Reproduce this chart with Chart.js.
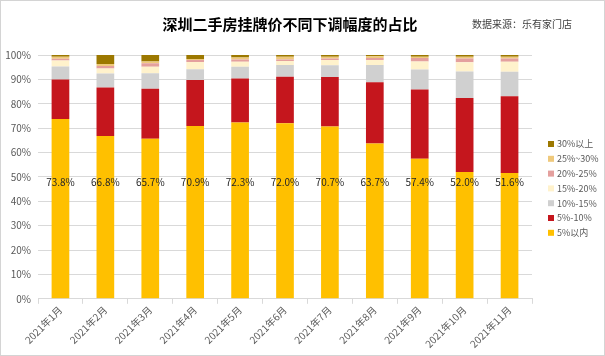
<!DOCTYPE html>
<html>
<head>
<meta charset="utf-8">
<script src="https://cdn.jsdelivr.net/npm/chart.js@4"></script>
<style>
  html, body { margin: 0; padding: 0; background: #fff; }
  #wrap { position: relative; width: 605px; height: 356px; }
  #wrap:after { content: ''; position: absolute; left: 0; top: 0; right: 0; bottom: 0; border: 1px solid #d4d4d4; pointer-events: none; }
  canvas { display: block; }
</style>
</head>
<body>
<div id="wrap"><canvas id="c" width="605" height="356"></canvas></div>
<script>
// ---- data ----
const titleText = '深圳二手房挂牌价不同下调幅度的占比';
const sourceText = '数据来源：乐有家门店';
const categories = ['2021年1月','2021年2月','2021年3月','2021年4月','2021年5月','2021年6月','2021年7月','2021年8月','2021年9月','2021年10月','2021年11月'];
const seriesNames = ['5%以内','5%-10%','10%-15%','15%-20%','20%-25%','25%~30%','30%以上'];
const share5 = [73.8,66.8,65.7,70.9,72.3,72.0,70.7,63.7,57.4,52.0,51.6];
const share5to10 = [16.2,19.9,20.5,18.8,18.1,19.1,20.3,25.1,28.5,30.4,31.5];
const share10to15 = [5.3,5.7,6.3,4.5,4.8,4.8,4.8,7.1,8.2,10.8,10.0];
const share15to20 = [2.4,2.1,2.7,2.9,2.0,1.6,2.1,2.1,3.2,3.8,4.1];
const share20to25 = [0.8,1.0,1.4,0.9,1.0,0.7,0.7,0.8,1.5,1.6,1.4];
const share25to30 = [0.8,0.8,0.7,0.4,0.8,1.1,0.7,0.7,0.5,0.7,0.7];
const share30plus = [0.7,3.7,2.7,1.6,1.0,0.7,0.7,0.5,0.7,0.7,0.7];
const yTicks = [0,10,20,30,40,50,60,70,80,90,100];

// ---- styles ----
const colors = ['#FFC000','#C5161D','#D0D0D0','#FFF2CC','#E4A09E','#EFC97C','#9C7800'];
const FONT = '"Noto Sans CJK SC", "Noto Sans", sans-serif';
const allSeries = [share5, share5to10, share10to15, share15to20, share20to25, share25to30, share30plus];

const datasets = allSeries.map((d, i) => ({
  label: seriesNames[i],
  data: d,
  backgroundColor: colors[i],
  borderWidth: 0,
  categoryPercentage: 1.0,
  barPercentage: 0.394
}));

const decorPlugin = {
  id: 'decor',
  afterDraw(chart) {
    const ctx = chart.ctx;
    const area = chart.chartArea;
    ctx.save();
    // title
    ctx.fillStyle = '#000';
    ctx.font = 'bold 15px ' + FONT;
    ctx.textAlign = 'center';
    ctx.textBaseline = 'middle';
    ctx.fillText(titleText, 290, 24);
    // source
    ctx.fillStyle = '#404040';
    ctx.font = '10px ' + FONT;
    ctx.textAlign = 'left';
    ctx.fillText(sourceText, 472, 24);
    // value labels on first series
    const meta = chart.getDatasetMeta(0);
    const ys = chart.scales.y;
    ctx.fillStyle = '#262626';
    ctx.font = '10px ' + FONT;
    ctx.textAlign = 'center';
    meta.data.forEach((bar, i) => {
      ctx.fillText(share5[i].toFixed(1) + '%', bar.x, ys.getPixelForValue(48));
    });
    // legend (reverse order)
    const x0 = area.right + 16;
    let y = area.top + 89;
    ctx.textAlign = 'left';
    ctx.font = '9px ' + FONT;
    for (let i = datasets.length - 1; i >= 0; i--) {
      ctx.fillStyle = colors[i];
      ctx.fillRect(x0, y - 3, 6, 6);
      ctx.fillStyle = '#595959';
      ctx.fillText(seriesNames[i], x0 + 9, y);
      y += 14.8;
    }
    ctx.restore();
  }
};

new Chart(document.getElementById('c'), {
  type: 'bar',
  data: { labels: categories, datasets },
  options: {
    responsive: false,
    animation: false,
    layout: { padding: { left: 0, right: 73, top: 55, bottom: 6 } },
    plugins: {
      legend: { display: false },
      tooltip: { enabled: false },
      title: { display: false }
    },
    scales: {
      x: {
        stacked: true,
        grid: { offset: true, drawOnChartArea: false, drawTicks: true, tickLength: 5, color: '#D9D9D9' },
        border: { display: true, color: '#D9D9D9' },
        ticks: { color: '#595959', font: { family: FONT, size: 10 }, minRotation: 45, maxRotation: 45, padding: 0 }
      },
      y: {
        stacked: true,
        min: 0, max: 100,
        afterBuildTicks(scale) { scale.ticks = yTicks.map(v => ({ value: v })); },
        afterFit(scale) { scale.width = 38; },
        grid: { color: '#D9D9D9', drawTicks: false },
        border: { display: false },
        ticks: { color: '#595959', font: { family: FONT, size: 10 }, padding: 7, callback: v => v + '%' }
      }
    }
  },
  plugins: [decorPlugin]
});
</script>
</body>
</html>
